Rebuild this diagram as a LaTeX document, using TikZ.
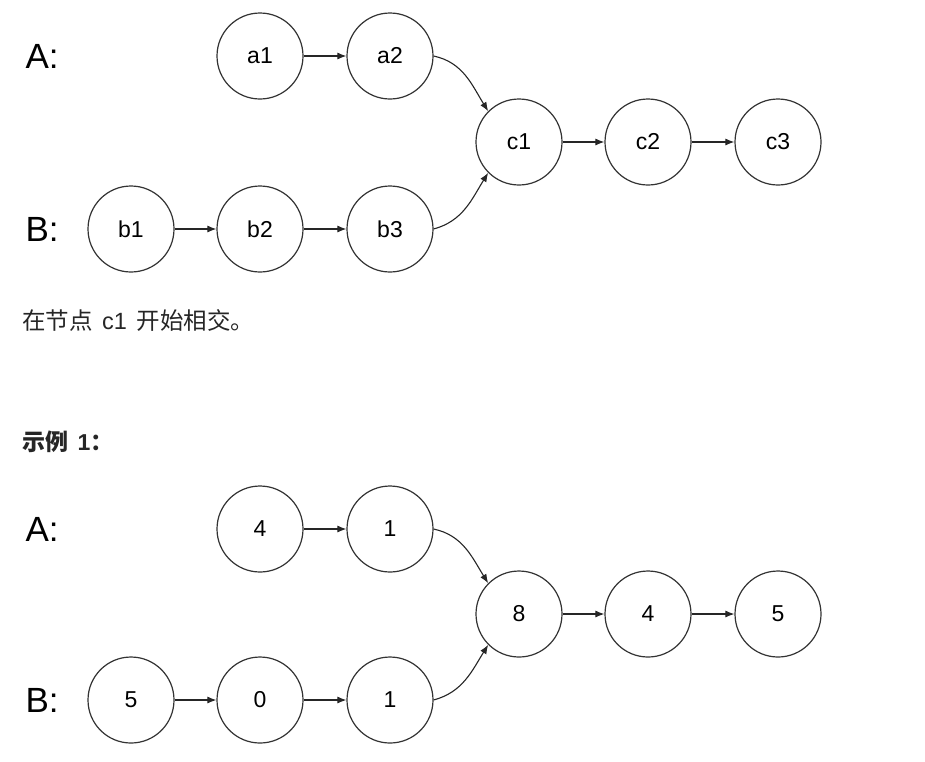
\documentclass[tikz,border=0pt]{standalone}
\usepackage{fontspec}
\setmainfont{Liberation Sans}
\newfontfamily\cjk{Noto Sans CJK SC}
\usetikzlibrary{arrows.meta}
\begin{document}
\begin{tikzpicture}[x=1pt,y=-1pt,
  listnode/.style={circle,draw=black!80,line width=1.2pt,minimum size=86pt,inner sep=0pt,font=\fontsize{23}{23}\selectfont},
  link/.style={draw=black!85,line width=1.1pt,-{Latex[length=9pt,width=7pt]}},
  side/.style={font=\fontsize{35}{35}\selectfont,anchor=west}]
\useasboundingbox (0,0) rectangle (925,761);
\fill[white] (0,0) rectangle (925,761);

% general case
\node[side] (la) at (22,56) {A:};
\node[side] (lb) at (22,229) {B:};
\node[listnode] (a1) at (260,56) {a1};
\node[listnode] (a2) at (390,56) {a2};
\node[listnode] (c1) at (519,142) {c1};
\node[listnode] (c2) at (648,142) {c2};
\node[listnode] (c3) at (778,142) {c3};
\node[listnode] (b1) at (131,229) {b1};
\node[listnode] (b2) at (260,229) {b2};
\node[listnode] (b3) at (390,229) {b3};
\draw[link] (a1) -- (a2);
\draw[link] (a2.east) to[out=-12,in=122] (c1.135);
\draw[link] (b3.east) to[out=15,in=-122] (c1.225);
\draw[link] (c1) -- (c2);
\draw[link] (c2) -- (c3);
\draw[link] (b1) -- (b2);
\draw[link] (b2) -- (b3);

\node[anchor=west,inner sep=0pt,text=black!85,font=\fontsize{23.5}{23.5}\selectfont] (note) at (22,321) {{\cjk 在节点}\hspace{3pt} c1\hspace{3pt} {\cjk 开始相交。}};
\node[anchor=west,inner sep=0pt,text=black!85,font=\fontsize{23}{23}\selectfont\bfseries] (ex) at (22,442) {{\cjk\bfseries 示例}\hspace{3pt} 1{\cjk\bfseries ：}};

% example 1
\node[side] (la2) at (22,529) {A:};
\node[side] (lb2) at (22,700) {B:};
\node[listnode] (x1) at (260,529) {4};
\node[listnode] (x2) at (390,529) {1};
\node[listnode] (m1) at (519,614) {8};
\node[listnode] (m2) at (648,614) {4};
\node[listnode] (m3) at (778,614) {5};
\node[listnode] (y1) at (131,700) {5};
\node[listnode] (y2) at (260,700) {0};
\node[listnode] (y3) at (390,700) {1};
\draw[link] (x1) -- (x2);
\draw[link] (x2.east) to[out=-12,in=122] (m1.135);
\draw[link] (y3.east) to[out=15,in=-122] (m1.225);
\draw[link] (m1) -- (m2);
\draw[link] (m2) -- (m3);
\draw[link] (y1) -- (y2);
\draw[link] (y2) -- (y3);
\end{tikzpicture}
\end{document}
